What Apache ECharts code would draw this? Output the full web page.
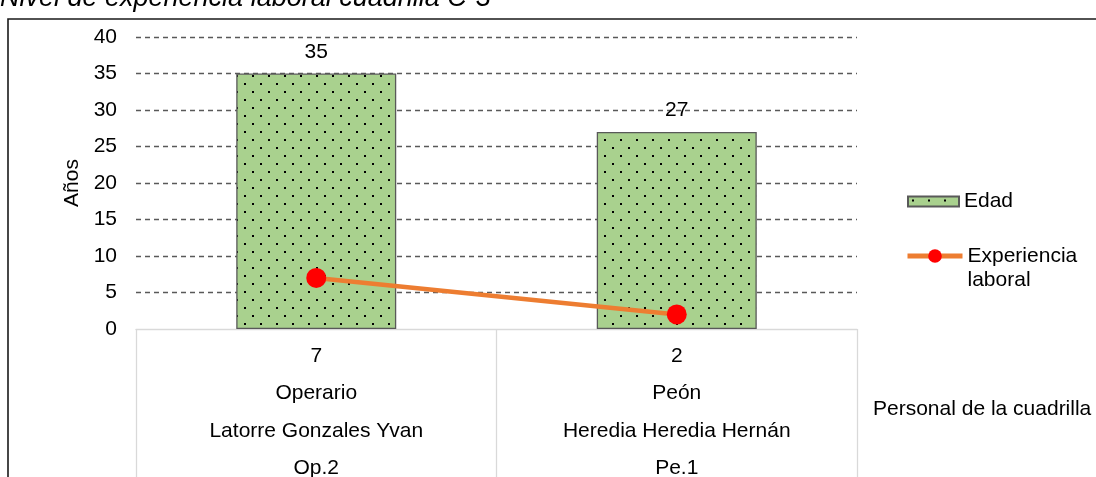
<!DOCTYPE html>
<html>
<head>
<meta charset="utf-8">
<script src="https://cdn.jsdelivr.net/npm/echarts@6/dist/echarts.min.js"></script>
<style>
html,body{margin:0;padding:0;background:#fff;}
#c{width:1096px;height:477px;}
</style>
</head>
<body>
<div id="c"></div>
<script>
// ---- data ----
const codes = ['Op.2', 'Pe.1'];
const names = ['Latorre Gonzales Yvan', 'Heredia Heredia Hernán'];
const roles = ['Operario', 'Peón'];
const edad = [35, 27];
const experiencia = [7, 2];
const yTicks = [0, 5, 10, 15, 20, 25, 30, 35, 40];
const titleText = 'Nivel de experiencia laboral cuadrilla C-3';
const yName = 'Años';
const xName = 'Personal de la cuadrilla';
const seriesNames = ['Edad', 'Experiencia laboral'];

// ---- dotted pattern ----
function makePattern() {
  const cv = document.createElement('canvas');
  cv.width = 16; cv.height = 16;
  const ctx = cv.getContext('2d');
  ctx.fillStyle = '#a9d18e';
  ctx.fillRect(0, 0, 16, 16);
  ctx.fillStyle = '#000';
  ctx.fillRect(4, 3, 2, 2);
  ctx.fillRect(12, 11, 2, 2);
  return cv;
}
const pattern = { image: makePattern(), repeat: 'repeat' };

const font = 'Liberation Sans, Arial, sans-serif';
const FS = 21;
const categories = codes.map((c, i) => i);

const chart = echarts.init(document.getElementById('c'), null, { renderer: 'canvas' });
chart.setOption({
  animation: false,
  backgroundColor: '#fff',
  textStyle: { fontFamily: font },
  title: {
    text: titleText,
    left: 0,
    top: -15,
    padding: 0,
    textStyle: { fontFamily: font, fontSize: 27, fontStyle: 'italic', fontWeight: 'normal', color: '#000' }
  },
  graphic: [{
    type: 'rect',
    shape: { x: 8, y: 19, width: 1200, height: 600 },
    style: { fill: 'none', stroke: '#1a1a1a', lineWidth: 1.6 },
    silent: true, z: -1
  }],
  legend: [{
    orient: 'vertical',
    left: 907,
    top: 191,
    padding: 0,
    icon: 'rect',
    itemWidth: 51,
    itemHeight: 10,
    data: [seriesNames[0]],
    itemStyle: { borderWidth: 2, borderColor: '#595959' },
    textStyle: { fontFamily: font, fontSize: FS, color: '#000' }
  }, {
    orient: 'vertical',
    left: 905,
    top: 217,
    padding: 0,
    itemWidth: 55,
    itemHeight: 17,
    data: [seriesNames[1]],
    lineStyle: { width: 5 },
    formatter: function (n) { return '\u00a0\n' + n.replace(' ', '\n'); },
    textStyle: { fontFamily: font, fontSize: FS, color: '#000', lineHeight: 24, padding: [6, 0, 0, 0] }
  }],
  grid: { left: 136, right: 239, top: 37, bottom: 148, containLabel: false, outerBoundsMode: 'none' },
  xAxis: {
    type: 'category',
    data: categories,
    name: xName,
    nameLocation: 'end',
    nameGap: 16,
    nameTextStyle: { fontFamily: font, fontSize: FS, color: '#000', align: 'left', verticalAlign: 'top', padding: [70, 0, 0, 0] },
    axisLine: { show: true, lineStyle: { color: '#d9d9d9', width: 1.3 } },
    axisTick: { show: true, inside: false, length: 160, interval: 0, alignWithLabel: false, lineStyle: { color: '#d9d9d9', width: 1.3 } },
    axisLabel: {
      interval: 0,
      margin: 8,
      fontFamily: font,
      fontSize: FS,
      color: '#000',
      lineHeight: 37.5,
      verticalAlign: 'top',
      formatter: function (v, i) {
        return [experiencia[i], roles[i], names[i], codes[i]].join('\n');
      }
    },
    splitLine: { show: false }
  },
  yAxis: {
    type: 'value',
    min: yTicks[0],
    max: yTicks[yTicks.length - 1],
    interval: yTicks[1] - yTicks[0],
    name: yName,
    nameLocation: 'middle',
    nameGap: 52,
    nameTextStyle: { fontFamily: font, fontSize: FS, color: '#000' },
    axisLine: { show: false },
    axisTick: { show: false },
    axisLabel: { margin: 19, fontFamily: font, fontSize: FS, color: '#000' },
    splitLine: {
      show: true,
      lineStyle: { color: '#595959', width: 1.3, type: [5, 4] },
      showMinLine: false
    }
  },
  series: [{
    name: seriesNames[0],
    type: 'bar',
    data: edad,
    barWidth: 160,
    itemStyle: { color: pattern, borderColor: '#595959', borderWidth: 1.3 },
    label: { show: true, position: 'top', distance: 11, fontFamily: font, fontSize: FS, color: '#000' },
    z: 2
  }, {
    name: seriesNames[1],
    type: 'line',
    data: experiencia,
    symbol: 'circle',
    symbolSize: 20,
    lineStyle: { color: '#ed7d31', width: 4.5 },
    itemStyle: { color: '#ff0000' },
    z: 3
  }]
});
</script>
</body>
</html>
